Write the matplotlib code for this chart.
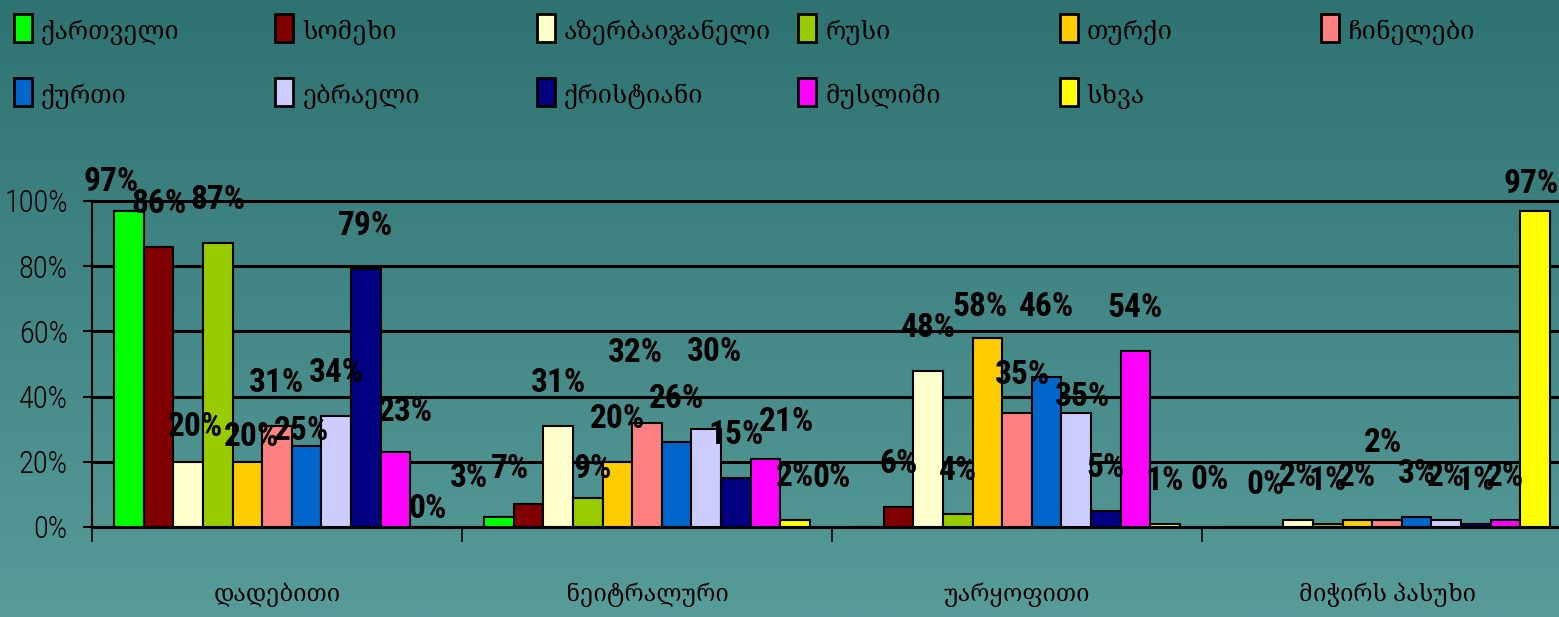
import numpy as np
import matplotlib
matplotlib.use("Agg")
import matplotlib.pyplot as plt
from matplotlib.colors import LinearSegmentedColormap
from matplotlib.patches import Rectangle

# Data
groups = ["დადებითი", "ნეიტრალური", "უარყოფითი", "მიჭირს პასუხი"]
series = ["ქართველი", "სომეხი", "აზერბაიჯანელი", "რუსი", "თურქი", "ჩინელები",
          "ქურთი", "ებრაელი", "ქრისტიანი", "მუსლიმი", "სხვა"]
colors = ["#00FF00", "#800000", "#FFFFCC", "#99CC00", "#FFCC00", "#FF8080",
          "#0066CC", "#CCCCFF", "#000080", "#FF00FF", "#FFFF00"]

dadebiti = [97, 86, 20, 87, 20, 31, 25, 34, 79, 23, 0]
neitraluri = [3, 7, 31, 9, 20, 32, 26, 30, 15, 21, 2]
uarkofiti = [0, 6, 48, 4, 58, 35, 46, 35, 5, 54, 1]
michirs = [0, 0, 2, 1, 2, 2, 3, 2, 1, 2, 97]
values = np.array([dadebiti, neitraluri, uarkofiti, michirs])

# label nudges (pixels, relative to the bar top) where the original deviates
label_nudge = {
    (0, 0): (-18, 29), (0, 2): (7, 35), (0, 4): (4, 25), (0, 6): (-5, 14),
    (0, 9): (10, 40), (0, 10): (3, 18),
    (1, 0): (-30, 39), (1, 1): (-19, 35), (1, 3): (5, 29), (1, 5): (-12, 70),
    (1, 7): (8, 77), (1, 9): (21, 37),
    (2, 0): (-37, 49), (2, 4): (-7, 31), (2, 5): (5, 38), (2, 6): (0, 70),
    (2, 7): (6, 16),
    (3, 0): (-29, 47), (3, 1): (-3, 42), (3, 5): (-4, 77), (3, 10): (-4, 27),
}

GEO = ["Noto Serif Georgian", "DejaVu Sans"]
NUM = ["Roboto Condensed", "DejaVu Sans"]

W, H = 1559, 617
fig = plt.figure(figsize=(W / 100, H / 100), dpi=100)

# gradient background
bg = fig.add_axes([0, 0, 1, 1], zorder=-10)
cmap = LinearSegmentedColormap.from_list("bg", ["#2e7272", "#589c9a"])
bg.imshow(np.linspace(0, 1, 256).reshape(-1, 1), aspect="auto", cmap=cmap,
          extent=[0, 1, 0, 1])
bg.set_axis_off()

# plot area: x 92..1572 px, y 527 (0%) .. 201 (100%)
ytop = 101
ax = fig.add_axes([92 / W, 90 / H, 1480 / W, 326 * ytop / 100 / H])
ax.patch.set_alpha(0)

n = len(series)
bw = 0.08
for i in range(n):
    x = np.arange(len(groups)) - 0.44 + bw * (i + 0.5)
    ax.bar(x, values[:, i], width=bw, color=colors[i], edgecolor="black",
           linewidth=1.5, zorder=3)
    for g in range(len(groups)):
        dx, dy = label_nudge.get((g, i), (0, 43))
        ax.annotate(f"{values[g, i]}%", xy=(x[g], values[g, i]),
                    xytext=(dx, dy), textcoords="offset pixels",
                    ha="center", va="center", fontsize=24, fontweight="bold",
                    family=NUM, color="black", zorder=5)

ax.set_xlim(-0.5, 3.5)
ax.set_ylim(0, ytop)
ax.set_yticks(range(0, 101, 20))
ax.set_yticklabels([f"{t}%" for t in range(0, 101, 20)], family=NUM,
                   fontsize=22, fontweight="light")
ax.tick_params(axis="y", length=6.5, width=1.5, pad=11, colors="black")
ax.yaxis.grid(True, color="black", linewidth=2.2)
ax.set_axisbelow(True)

ax.set_xticks(range(len(groups)))
ax.set_xticklabels(groups, family=GEO, fontsize=17)
ax.tick_params(axis="x", which="major", length=0, pad=40)
ax.set_xticks(np.arange(-0.5, 3.5, 1), minor=True)
ax.tick_params(axis="x", which="minor", length=11, width=1.2, direction="out")

for s in ["top", "right"]:
    ax.spines[s].set_visible(False)
ax.spines["left"].set_linewidth(1.5)
ax.spines["left"].set_bounds(0, 100)
ax.spines["bottom"].set_linewidth(2.2)

# legend, 2 rows x 6 columns
for i, (name, c) in enumerate(zip(series, colors)):
    row, col = divmod(i, 6)
    x0 = 14 + col * 261.4
    yc = 28 + row * 64
    fig.patches.append(Rectangle((x0 / W, 1 - (yc + 14) / H), 18 / W, 28 / H,
                                 transform=fig.transFigure, facecolor=c,
                                 edgecolor="black", linewidth=2))
    fig.text((x0 + 27) / W, 1 - (yc + 4) / H, name, family=GEO, fontsize=18,
             va="center", ha="left", color="black")

fig.savefig("out.png", dpi=100)
